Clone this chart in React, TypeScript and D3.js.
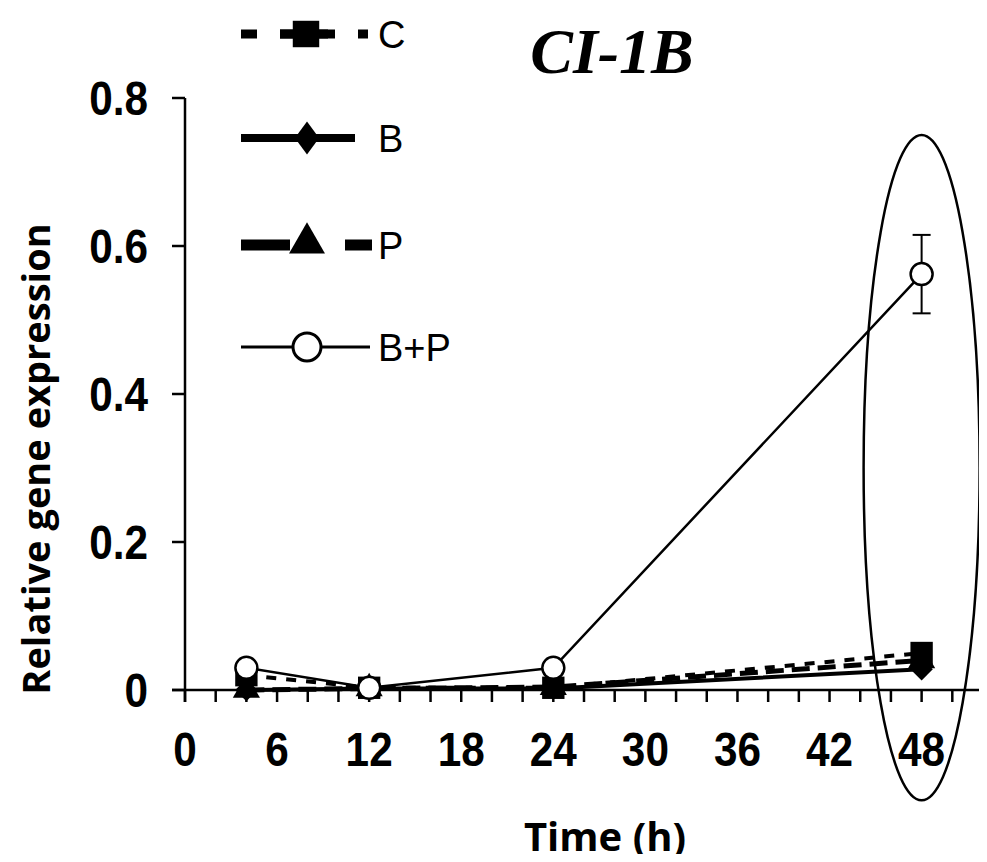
import React from "react";
import * as d3 from "d3";

// data
const times = [4, 12, 24, 48];
const seriesC = [0.02, 0.003, 0.003, 0.05];
const seriesB = [0.0, 0.002, 0.002, 0.028];
const seriesP = [0.0, 0.002, 0.004, 0.04];
const seriesBP = [0.03, 0.003, 0.03, 0.562];
const errBP = [0, 0, 0, 0.053];
const xTickLabels = [0, 6, 12, 18, 24, 30, 36, 42, 48];
const yTickLabels = [0, 0.2, 0.4, 0.6, 0.8];
const legendNames = ["C", "B", "P", "B+P"];

const width = 987;
const height = 862;
const tickFont = "'Liberation Sans', Arial, sans-serif";

const App = () => {
    const x = d3.scaleLinear().domain([0, 52]).range([185, 983]);
    const y = d3.scaleLinear().domain([0, 0.8]).range([690, 98]);

    const line = d3
        .line<number>()
        .x((d, i) => x(times[i]))
        .y((d) => y(d));

    const sq = d3.symbol().type(d3.symbolSquare);
    const dia = d3.symbol().type(d3.symbolDiamond2);
    const tri = d3.symbol().type(d3.symbolTriangle);

    const series = [
        { name: "C", values: seriesC, dash: "10,10", sw: 4, marker: sq.size(500)() },
        { name: "B", values: seriesB, dash: null, sw: 4, marker: dia.size(320)() },
        { name: "P", values: seriesP, dash: "18,8", sw: 5, marker: tri.size(320)() },
    ];

    const minorTicks = d3.range(0, 53, 2);

    // legend rows
    const legendY = [34, 138, 245, 347];

    return (
        <svg width={width} height={height} style={{ display: "block", margin: -8 }}>
            <rect width={width} height={height} fill="#fff" />

            {/* title */}
            <text
                x={612}
                y={73}
                textAnchor="middle"
                fontFamily="'Liberation Serif', 'Times New Roman', serif"
                fontStyle="italic"
                fontWeight="bold"
                fontSize={64}
            >
                CI-1B
            </text>

            {/* axes */}
            <g stroke="#000" strokeWidth={2.5}>
                <line x1={x(0)} x2={x(0)} y1={y(0.8)} y2={y(0) + 12} />
                <line x1={172} x2={x(52)} y1={y(0)} y2={y(0)} />
                {yTickLabels.map((t) => (
                    <line key={t} x1={172} x2={x(0)} y1={y(t)} y2={y(t)} />
                ))}
                {minorTicks.map((t) => (
                    <line key={t} x1={x(t)} x2={x(t)} y1={y(0)} y2={y(0) + 12} />
                ))}
            </g>
            <g fontFamily={tickFont} fontWeight="bold" fontSize={46}>
                {yTickLabels.map((t) => (
                    <text key={t} transform={`translate(148,${y(t) + 17}) scale(0.92,1.05)`} textAnchor="end">
                        {t === 0 ? "0" : t.toFixed(1)}
                    </text>
                ))}
                {xTickLabels.map((t) => (
                    <text key={t} transform={`translate(${x(t)},766) scale(0.92,1.05)`} textAnchor="middle">
                        {t}
                    </text>
                ))}
            </g>

            {/* axis titles */}
            <text
                transform={`translate(50,${459}) rotate(-90)`}
                textAnchor="middle"
                fontFamily="'Open Sans', sans-serif"
                fontWeight="bold"
                fontSize={38}
            >
                Relative gene expression
            </text>
            <text
                x={605}
                y={851}
                textAnchor="middle"
                fontFamily="'Open Sans', sans-serif"
                fontWeight="bold"
                fontSize={40}
            >
                Time (h)
            </text>

            {/* C, B, P series */}
            {series.map((s) => (
                <g key={s.name}>
                    <path
                        d={line(s.values) || ""}
                        fill="none"
                        stroke="#000"
                        strokeWidth={s.sw}
                        strokeDasharray={s.dash || undefined}
                    />
                    {s.values.map((v, i) => (
                        <path key={i} d={s.marker || ""} transform={`translate(${x(times[i])},${y(v)})`} fill="#000" />
                    ))}
                </g>
            ))}

            {/* B+P series */}
            <path d={line(seriesBP) || ""} fill="none" stroke="#000" strokeWidth={2.5} />
            {seriesBP.map((v, i) =>
                errBP[i] > 0 ? (
                    <g key={"e" + i} stroke="#000" strokeWidth={2}>
                        <line x1={x(times[i])} x2={x(times[i])} y1={y(v - errBP[i])} y2={y(v + errBP[i])} />
                        <line x1={x(times[i]) - 9} x2={x(times[i]) + 9} y1={y(v - errBP[i])} y2={y(v - errBP[i])} />
                        <line x1={x(times[i]) - 9} x2={x(times[i]) + 9} y1={y(v + errBP[i])} y2={y(v + errBP[i])} />
                    </g>
                ) : null
            )}
            {seriesBP.map((v, i) => (
                <circle key={i} cx={x(times[i])} cy={y(v)} r={11} fill="#fff" stroke="#000" strokeWidth={2.5} />
            ))}

            {/* highlight ellipse */}
            <ellipse
                cx={x(48)}
                cy={(y(0.75) + y(-0.149)) / 2}
                rx={58}
                ry={(y(-0.149) - y(0.75)) / 2}
                fill="none"
                stroke="#000"
                strokeWidth={2.5}
            />

            {/* legend */}
            <g>
                <line x1={241} x2={368} y1={legendY[0]} y2={legendY[0]} stroke="#000" strokeWidth={9} strokeDasharray="16,23" />
                <path d={sq.size(700)() || ""} transform={`translate(306,${legendY[0]})`} fill="#000" />
                <line x1={280} x2={328} y1={legendY[0]} y2={legendY[0]} stroke="#000" strokeWidth={9} />

                <line x1={241} x2={355} y1={legendY[1]} y2={legendY[1]} stroke="#000" strokeWidth={8} />
                <path d={dia.size(520)() || ""} transform={`translate(307,${legendY[1]}) scale(0.85,1.15)`} fill="#000" />

                <line x1={241} x2={372} y1={legendY[2]} y2={legendY[2]} stroke="#000" strokeWidth={11} strokeDasharray="49,55" />
                <path d={tri.size(560)() || ""} transform={`translate(307,${legendY[2] - 2})`} fill="#000" />

                <line x1={241} x2={370} y1={legendY[3]} y2={legendY[3]} stroke="#000" strokeWidth={3} />
                <circle cx={307} cy={legendY[3]} r={14} fill="#fff" stroke="#000" strokeWidth={3} />

                {legendNames.map((n, i) => (
                    <text
                        key={n}
                        x={378}
                        y={legendY[i] + 14}
                        fontFamily="'Liberation Sans', Arial, sans-serif"
                        fontSize={38}
                    >
                        {n}
                    </text>
                ))}
            </g>
        </svg>
    );
};

export default App;
